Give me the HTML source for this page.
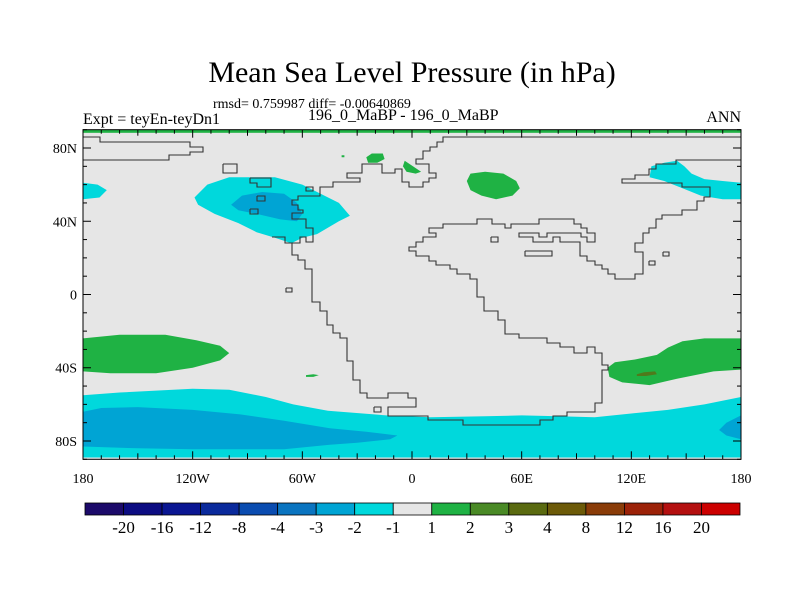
<!DOCTYPE html>
<html><head><meta charset="utf-8"><style>
body{margin:0;background:#fff;}
svg{display:block;font-family:"Liberation Serif",serif;}
</style></head><body>
<svg id="s" width="800" height="600" viewBox="0 0 800 600">
<text x="412" y="82" font-size="30" text-anchor="middle">Mean Sea Level Pressure (in hPa)</text>
<text x="213" y="108" font-size="14">rmsd= 0.759987 diff= -0.00640869</text>
<text x="83" y="124" font-size="16">Expt = teyEn-teyDn1</text>
<text x="308" y="120" font-size="16">196_0_MaBP - 196_0_MaBP</text>
<text x="741" y="122" font-size="16" text-anchor="end">ANN</text>
</svg>
<script>
// contour regions (lon, lat) and their level colours
const regionNames=["nh-cyan","nh-dark","nw-edge-cyan","ne-cyan","green-a","green-b","green-c","green-d","sh-green-w","sh-green-e","sh-brown","sh-green-small","sh-cyan-band","sh-dark-w","sh-dark-e"];
const regionLevels=["c","d","c","c","g","g","g","g","g","g","b","g","c","d","d"];
const regionShapes=[
[[-119,53],[-112,60],[-100,64],[-75,64],[-60,60],[-50,55],[-40,50],[-34,43],[-40,40],[-52,33],[-60,31],[-66,28],[-75,31],[-85,34],[-95,39],[-108,44],[-117,49]],
[[-99,49],[-93,54],[-82,56],[-70,55],[-63,50],[-60,44],[-63,40],[-72,41],[-85,44],[-95,46]],
[[-180,61],[-172,60],[-167,57],[-171,53],[-180,52]],
[[130,64],[131,70],[138,72],[145,73],[149,70],[153,66],[160,63],[170,62],[180,61],[180,52],[170,52],[158,54],[148,58],[138,62]],
[[-25,75],[-22,77],[-16,77],[-15,74],[-19,72],[-24,72]],
[[-4,73],[5,67],[2,66],[-3,67],[-5,70]],
[[-38.5,76],[-37,76],[-37,75],[-38.5,75]],
[[30,62],[32,66],[40,67],[50,66],[57,62],[59,58],[55,54],[46,52],[38,54],[32,57]],
[[-180,-24],[-160,-22],[-135,-22],[-118,-25],[-105,-28],[-100,-32],[-105,-36],[-120,-40],[-140,-43],[-165,-43],[-180,-42]],
[[107,-40],[111,-37],[122,-35.5],[134,-33],[140,-29],[148,-25.5],[160,-24],[180,-24],[180,-41],[165,-42],[145,-46],[130,-49.5],[115,-48],[108,-45]],
[[123,-43.5],[127,-42.5],[133,-42],[134,-43.5],[128,-44.5],[123,-44.5]],
[[-58,-44],[-54,-43.5],[-51,-44],[-54,-45],[-58,-45]],
[[-180,-55],[-160,-53.5],[-140,-52.5],[-120,-51.5],[-100,-52],[-90,-54],[-80,-56],[-65,-60],[-46,-63.5],[-14,-66],[10,-67],[40,-66.5],[60,-66],[80,-66.5],[100,-67],[120,-65],[140,-63],[160,-60],[180,-56],[180,-89],[-180,-89]],
[[-180,-64],[-170,-62],[-150,-61.5],[-120,-63],[-94,-65.5],[-70,-69],[-45,-73],[-25,-75],[-8,-77],[-12,-79],[-30,-81],[-45,-82],[-70,-84.5],[-120,-84.5],[-150,-84],[-180,-83]],
[[180,-66],[172,-70],[168,-74],[172,-77],[180,-79]]
];
const levelColors={c:"#00d8dc",d:"#00a4d4",g:"#1fb244",b:"#4f7a1c"};
// colorbar
const cbColors=["#1c0a6a","#0c0c82","#0a1692","#0a2a9c","#0a4cb0","#0a74c0","#00a4d4","#00d8dc","#e6e6e6","#1fb244","#4a8a26","#5a6a10","#6c5a08","#8a3c08","#9c2208","#b41010","#cc0000"];
const cbLabels=["-20","-16","-12","-8","-4","-3","-2","-1","1","2","3","4","8","12","16","20"];
const lonTicks=[-180,-120,-60,0,60,120,180];
const lonLabels=["180","120W","60W","0","60E","120E","180"];
const latTicks=[80,40,0,-40,-80];
const latLabels=["80N","40N","0","40S","80S"];
// coastline outlines, digitised in plot pixels
const coastPx=[
[[83,137],[100,137],[100,142],[190,142],[190,147],[203,147],[203,152],[190,152],[190,155],[169,155],[169,160],[83,160]],
[[223,164],[237,164],[237,173],[223,173],[223,164]],
[[250,178],[271,178],[271,187],[257,187],[257,183],[250,183],[250,178]],
[[257,196],[265,196],[265,201],[257,201],[257,196]],
[[250,209],[258,209],[258,214],[250,214],[250,209]],
[[306,187],[313,187],[313,191],[306,191],[306,187]],
[[741,137],[443,137],[443,142],[437,142],[437,147],[430,147],[430,151],[423,151],[423,159],[416,159],[416,164],[429,164],[429,173],[436,173],[436,178],[429,178],[429,182],[423,182],[423,187],[409,187],[409,182],[402,182],[402,169],[395,169],[395,173],[382,173],[382,164],[362,164],[362,173],[347,173],[347,178],[360,178],[360,182],[333,182],[333,187],[320,187],[320,196],[298,196],[298,200],[292,200],[292,205],[298,205],[298,210],[303,210],[303,213],[292,213],[292,219],[306,219],[306,228],[313,228],[313,242],[306,242],[306,237],[300,237],[300,243],[292,243],[292,255],[298,255],[298,260],[305,260],[305,269],[312,269],[312,302],[320,302],[320,311],[327,311],[327,325],[333,325],[333,333],[340,333],[340,338],[347,338],[347,361],[353,361],[353,380],[360,380],[360,393],[367,393],[367,398],[388,398],[388,393],[408,393],[408,398],[416,398],[416,407],[388,407],[388,416],[428,416],[428,420],[463,420],[463,425],[540,425],[540,420],[553,420],[553,416],[567,416],[567,412],[595,412],[595,403],[602,403],[602,370],[608,370],[608,365],[602,365],[602,353],[595,353],[595,347],[587,347],[587,353],[574,353],[574,347],[560,347],[560,343],[547,343],[547,338],[519,338],[519,334],[505,334],[505,320],[498,320],[498,311],[484,311],[484,297],[477,297],[477,279],[470,279],[470,274],[457,274],[457,269],[450,269],[450,265],[436,265],[436,261],[429,261],[429,256],[416,256],[416,251],[409,251],[409,247],[416,247],[416,242],[423,242],[423,237],[436,237],[436,233],[429,233],[429,228],[443,228],[443,224],[477,224],[477,219],[492,219],[492,224],[505,224],[505,228],[511,228],[511,224],[539,224],[539,219],[574,219],[574,224],[581,224],[581,228],[587,228],[587,233],[595,233],[595,242],[587,242],[587,237],[581,237],[581,233],[547,233],[547,237],[539,237],[539,233],[519,233],[519,237],[533,237],[533,242],[553,242],[553,237],[560,237],[560,242],[580,242],[580,256],[587,256],[587,261],[595,261],[595,265],[602,265],[602,269],[608,269],[608,274],[615,274],[615,279],[635,279],[635,274],[643,274],[643,252],[635,252],[635,243],[643,243],[643,233],[649,233],[649,228],[656,228],[656,219],[662,219],[662,215],[682,215],[682,210],[697,210],[697,201],[704,201],[704,197],[710,197],[710,187],[682,187],[682,183],[622,183],[622,179],[635,179],[635,175],[649,175],[649,169],[656,169],[656,164],[676,164],[676,160],[741,160]],
[[272,237],[285,237],[285,243],[292,243]],
[[491,237],[498,237],[498,242],[491,242],[491,237]],
[[525,251],[552,251],[552,256],[525,256],[525,251]],
[[663,252],[669,252],[669,256],[663,256],[663,252]],
[[649,261],[655,261],[655,265],[649,265],[649,261]],
[[286,288],[292,288],[292,292],[286,292],[286,288]],
[[374,407],[381,407],[381,412],[374,412],[374,407]]
];
const X0=83,X1=741,Y0=129.7,Y1=459.3;
const xs=lon=>X0+(lon+180)/360*(X1-X0);
const ys=lat=>Y0+(90-lat)/180*(Y1-Y0);
const NS="http://www.w3.org/2000/svg";
const svg=document.getElementById('s');
function mk(tag,attrs,parent){const e=document.createElementNS(NS,tag);for(const k in attrs)e.setAttribute(k,attrs[k]);(parent||svg).appendChild(e);return e;}
const clip=mk('clipPath',{id:'pc'});mk('rect',{x:X0,y:Y0,width:X1-X0,height:Y1-Y0},clip);
const bg=mk('rect',{x:X0,y:Y0,width:X1-X0,height:Y1-Y0,fill:'#e6e6e6'});


const g=mk('g',{'clip-path':'url(#pc)'});
const strip=mk('rect',{x:X0,y:ys(90),width:X1-X0,height:ys(88.3)-ys(90),fill:levelColors.g},g);


regionShapes.forEach((shape,i)=>{
  const d=shape.map((p,j)=>(j?'L':'M')+xs(p[0]).toFixed(1)+','+ys(p[1]).toFixed(1)).join('')+'Z';
  const p=mk('path',{d:d,fill:levelColors[regionLevels[i]]},g);
  
  
});
coastPx.forEach((line,i)=>{
  const pl=mk('polyline',{points:line.map(p=>p.join(',')).join(' '),fill:'none',stroke:'#333','stroke-width':1.1},g);
  
  
});
const fr=mk('rect',{x:X0,y:Y0,width:X1-X0,height:Y1-Y0,fill:'none',stroke:'#000','stroke-width':1});


// ticks
for(let lon=-180;lon<=180;lon+=10){
  const L=(lon%60===0)?8:(lon%30===0?6:4);const x=xs(lon);
  const t1=mk('line',{x1:x,x2:x,y1:Y1,y2:Y1-L,stroke:'#000'});
  
  
  const t2=mk('line',{x1:x,x2:x,y1:Y0,y2:Y0+L,stroke:'#000'});
  
  
}
for(let lat=-90;lat<=90;lat+=10){
  const L=(lat%40===0)?8:4;const y=ys(lat);
  const t1=mk('line',{x1:X0,x2:X0+L,y1:y,y2:y,stroke:'#000'});
  
  
  const t2=mk('line',{x1:X1,x2:X1-L,y1:y,y2:y,stroke:'#000'});
  
  
}
lonTicks.forEach((lon,i)=>{
  const t=mk('text',{x:xs(lon),y:483,'font-size':14,'text-anchor':'middle'});t.textContent=lonLabels[i];
  
  
});
latTicks.forEach((lat,i)=>{
  const t=mk('text',{x:77,y:ys(lat)+5,'font-size':14,'text-anchor':'end'});t.textContent=latLabels[i];
  
  
});
// colorbar
const CB0=85,CB1=740,CBY=503,CBH=12,bw=(CB1-CB0)/cbColors.length;
cbColors.forEach((c,i)=>{
  const r=mk('rect',{x:CB0+i*bw,y:CBY,width:bw,height:CBH,fill:c,stroke:'#000','stroke-width':0.8});
  
  
});
cbLabels.forEach((l,i)=>{
  const t=mk('text',{x:CB0+(i+1)*bw,y:533,'font-size':17,'text-anchor':'middle'});t.textContent=l;
  
  
});
</script>
</body></html>
